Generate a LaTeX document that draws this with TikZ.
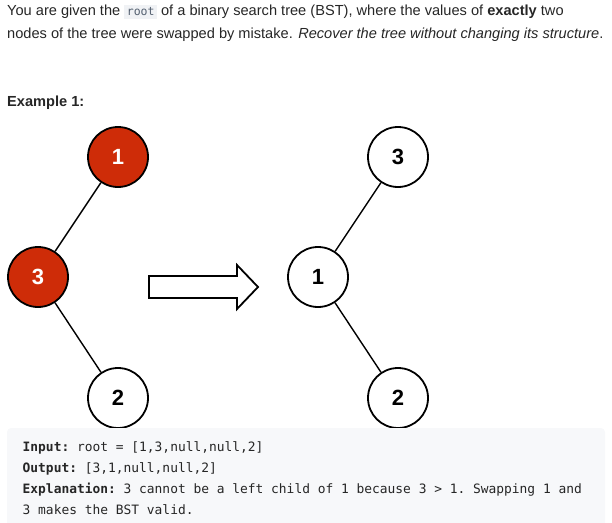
\documentclass[tikz,border=0pt]{standalone}
\usepackage{fontspec}
\setmainfont{Liberation Sans}
\setmonofont{DejaVu Sans Mono}
\usepackage{xcolor}
\definecolor{ink}{RGB}{38,38,38}
\definecolor{swapred}{RGB}{206,44,8}
\definecolor{codebg}{RGB}{247,248,250}
\definecolor{inlinebg}{RGB}{240,242,245}
\definecolor{inlinefg}{RGB}{84,96,112}

\tikzset{
  treenode/.style={circle, draw=black, line width=1.8pt, fill=white,
    minimum size=60pt, inner sep=0pt, font=\fontsize{22}{22}\selectfont\bfseries},
  swapped/.style={treenode, fill=swapred, text=white},
  treeedge/.style={line width=1.4pt},
  prose/.style={anchor=base west, inner sep=0pt, text=ink, font=\fontsize{14.6}{17}\selectfont},
  codeline/.style={anchor=base west, inner sep=0pt, text=ink, font=\ttfamily\fontsize{12.9}{15}\selectfont}
}

\begin{document}
\begin{tikzpicture}[x=1pt,y=-1pt]
\useasboundingbox (0,0) rectangle (612,522);

% problem statement
\node[prose] (line1) at (7,16) {You are given the {\setlength{\fboxsep}{2.5pt}\colorbox{inlinebg}{\color{inlinefg}\ttfamily\fontsize{11.5}{12}\selectfont root}} of a binary search tree (BST), where the values of \textbf{exactly} two};
\node[prose] (line2) at (7,38) {nodes of the tree were swapped by mistake. \textit{Recover the tree without changing its structure}.};
\node[prose, font=\fontsize{14.6}{17}\selectfont\bfseries] (example) at (7,106) {Example 1:};

% tree before the swap
\node[swapped] (n1) at (118,157) {1};
\node[swapped] (n3) at (38,277) {3};
\node[treenode] (n2) at (118,398) {2};
\draw[treeedge] (n1) -- (n3);
\draw[treeedge] (n3) -- (n2);

% hollow arrow
\draw[line width=1.8pt, line join=miter, fill=white]
  (149,276) -- (237,276) -- (237,265) -- (258,287) -- (237,309) -- (237,298) -- (149,298) -- cycle;

% tree after the swap
\node[treenode] (m3) at (398,157) {3};
\node[treenode] (m1) at (318,277) {1};
\node[treenode] (m2) at (398,398) {2};
\draw[treeedge] (m3) -- (m1);
\draw[treeedge] (m1) -- (m2);

% example box
\fill[codebg, rounded corners=4pt] (7,428) rectangle (605,530);
\node[codeline] (input) at (22.5,451) {\textbf{Input:} root = [1,3,null,null,2]};
\node[codeline] (output) at (22.5,472) {\textbf{Output:} [3,1,null,null,2]};
\node[codeline] (expl1) at (22.5,493) {\textbf{Explanation:} 3 cannot be a left child of 1 because 3 > 1. Swapping 1 and};
\node[codeline] (expl2) at (22.5,514) {3 makes the BST valid.};
\end{tikzpicture}
\end{document}
